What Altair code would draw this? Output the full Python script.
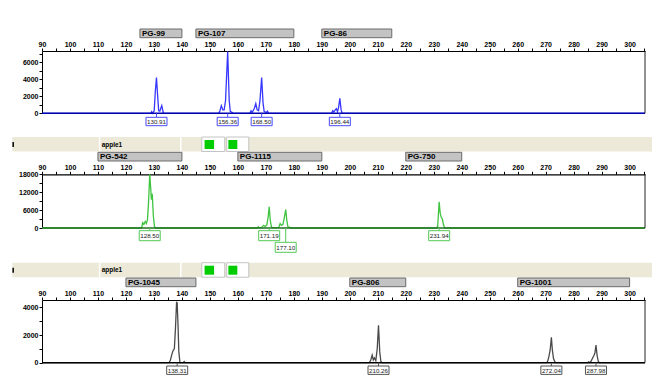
import altair as alt
import pandas as pd

# ---------------- data ----------------
X_MIN, X_MAX = 90, 305.5
x_ticks = list(range(90, 306, 5))

# Panel 1 (blue dye)
p1_bp = [90.0, 128.9, 129.2, 129.5, 130.1, 130.5, 130.91, 131.3, 131.7, 132.1, 132.8, 133.4,
         153.2, 153.6, 154.1, 154.6, 155.1, 155.6, 156.36, 156.9, 157.3, 157.8, 158.2,
         164.3, 164.7, 165.1, 165.9, 166.4, 166.9, 167.4, 167.9, 168.5, 169.0, 169.4, 170.2, 170.6, 171.0,
         193.5, 193.9, 194.3, 194.8, 195.2, 195.6, 196.0, 196.44, 196.9, 197.3, 305.5]
p1_rfu = [0, 0, 200, 0, 300, 2600, 4200, 2200, 300, 250, 900, 0,
          0, 300, 900, 400, 400, 1500, 7300, 1500, 200, 150, 0,
          0, 300, 100, 600, 1150, 400, 300, 1500, 4200, 1200, 200, 100, 250, 0,
          0, 300, 150, 400, 550, 200, 700, 1750, 400, 0, 0]
p1_bin_names = ["PG-99", "PG-107", "PG-86"]
p1_bin_start = [125, 145, 190]
p1_bin_end = [140, 180, 215]
p1_peaks = [130.91, 156.36, 168.50, 196.44]
p1_labels = ["130.91", "156.36", "168.50", "196.44"]
p1_levels = [0, 0, 0, 0]

# Panel 2 (green dye)
p2_bp = [90.0, 125.6, 126.0, 126.4, 126.9, 127.3, 127.7, 128.1, 128.5, 128.8, 129.1, 129.4, 129.8, 130.2, 130.6,
         167.0, 167.3, 167.6, 168.5, 169.2, 169.7, 170.3, 170.8, 171.19, 171.6, 172.0, 172.5,
         174.6, 175.1, 175.6, 176.1, 176.6, 177.1, 177.5, 177.9, 178.5, 178.9,
         231.0, 231.4, 231.94, 232.3, 232.7, 233.1, 233.5, 233.9, 305.5]
p2_rfu = [0, 0, 1800, 1200, 2200, 1500, 2800, 9000, 18000, 14000, 9500, 11500, 4000, 500, 0,
          0, 400, 100, 200, 900, 500, 900, 3500, 7100, 2500, 300, 100,
          200, 1500, 900, 1200, 3500, 6200, 2500, 400, 200, 0,
          0, 500, 8800, 5000, 3500, 3000, 1000, 0, 0]
p2_bin_names = ["PG-542", "PG-1115", "PG-750"]
p2_bin_start = [110, 160, 220]
p2_bin_end = [140, 190, 240]
p2_peaks = [128.50, 171.19, 177.10, 231.94]
p2_labels = ["128.50", "171.19", "177.10", "231.94"]
p2_levels = [0, 0, 1, 0]

# Panel 3 (black dye)
p3_bp = [90.0, 135.4, 135.9, 136.4, 136.9, 137.3, 137.7, 138.1, 138.31, 138.6, 138.9, 139.3, 140.5, 140.8, 141.1,
         207.0, 207.5, 208.0, 208.4, 208.8, 209.3, 209.8, 210.26, 210.7, 211.1, 211.5,
         270.4, 270.8, 271.2, 271.6, 272.04, 272.4, 272.8, 273.2, 273.6,
         285.0, 285.3, 285.6, 286.2, 286.7, 287.2, 287.6, 287.98, 288.4, 288.8, 289.2, 305.5]
p3_rfu = [0, 0, 200, 600, 900, 1000, 2500, 4400, 4300, 2800, 800, 0, 0, 80, 0,
          0, 200, 550, 200, 350, 150, 1000, 2700, 800, 100, 0,
          0, 150, 500, 900, 1830, 900, 300, 100, 0,
          0, 60, 0, 100, 300, 500, 700, 1280, 500, 100, 0, 0]
p3_bin_names = ["PG-1045", "PG-806", "PG-1001"]
p3_bin_start = [120, 200, 260]
p3_bin_end = [145, 220, 300]
p3_peaks = [138.31, 210.26, 272.04, 287.98]
p3_labels = ["138.31", "210.26", "272.04", "287.98"]
p3_levels = [0, 0, 0, 0]

# sample header strip (in bp units of the shared axis)
sample_name = "apple1"
header_span = [79.4, 308.9]
header_seps = [110.6, 139.6]
white_start = [147.1, 156.0]
white_end = [155.3, 163.9]
green_start = [148.1, 156.6]
green_end = [151.5, 159.8]

# ---------------- chart ----------------
W, H = 603, 368
FONT = "Liberation Sans"
one = pd.DataFrame({"k": [0]})


def build_panel(bp, rfu, names, bstart, bend, peaks, labels, levels, ymax, yticks, ylab,
                axis_y, base_y, color, base_color, box_color, box_dy, box_h, header):
    xs = alt.Scale(domain=[X_MIN, X_MAX], nice=False, zero=False)
    xa = alt.Axis(orient="top", offset=-axis_y, values=x_ticks, format="d",
                  labelExpr="datum.value % 10 === 0 ? datum.label : ''",
                  labelFont=FONT, labelFontSize=7, labelFontWeight="bold", labelColor="black",
                  tickColor="black", tickSize=3, labelPadding=1, domainColor="black",
                  domainWidth=1.2, grid=False, title=None, labelFlush=False, labelOverlap=False)
    ys = alt.Scale(domain=[0, ymax], range=[base_y, axis_y], nice=False, zero=True)
    ya = alt.Axis(orient="left", values=yticks, format="d",
                  labelExpr=f"datum.value % {ylab} === 0 ? datum.label : ''",
                  labelFont=FONT, labelFontSize=7, labelFontWeight="bold", labelColor="black",
                  tickColor="black", tickSize=3, labelPadding=1, domainColor="black",
                  grid=False, title=None, labelFlush=False, labelOverlap=False)

    def X(f):
        return alt.X(f, type="quantitative", scale=xs, axis=xa)

    layers = []
    if header:
        ht, hb = axis_y - 37.3, axis_y - 22.8
        hdf = pd.DataFrame({"s": [header_span[0]], "e": [header_span[1]]})
        layers.append(alt.Chart(hdf).mark_rect(fill="#ece9d8").encode(
            x=X("s"), x2="e", y=alt.value(ht), y2=alt.value(hb)))
        sdf = pd.DataFrame({"s": header_seps})
        layers.append(alt.Chart(sdf).mark_rule(color="#ffffff", strokeWidth=1.5).encode(
            x=X("s"), y=alt.value(ht), y2=alt.value(hb)))
        layers.append(alt.Chart(one).mark_rule(color="black", strokeWidth=1.5).encode(
            x=alt.XDatum(header_span[0] + 0.3, type="quantitative", scale=xs, axis=xa),
            y=alt.value(ht + 5), y2=alt.value(ht + 10)))
        wdf = pd.DataFrame({"s": white_start, "e": white_end})
        layers.append(alt.Chart(wdf).mark_rect(fill="white", stroke="#c4c4c4", strokeWidth=1).encode(
            x=X("s"), x2="e", y=alt.value(ht), y2=alt.value(hb)))
        gdf = pd.DataFrame({"s": green_start, "e": green_end})
        layers.append(alt.Chart(gdf).mark_rect(fill="#00cc00").encode(
            x=X("s"), x2="e", y=alt.value(ht + 3), y2=alt.value(ht + 12)))
        tdf = pd.DataFrame({"s": [header_seps[0]], "t": [sample_name]})
        layers.append(alt.Chart(tdf).mark_text(align="left", baseline="middle", dx=2, font=FONT,
                                               fontSize=6.5, fontWeight="bold", color="black").encode(
            x=X("s"), y=alt.value((ht + hb) / 2 + 0.5), text="t:N"))

    # marker bins
    bt, bb = axis_y - 22, axis_y - 13.3
    bdf = pd.DataFrame({"name": names, "s": bstart, "e": bend})
    layers.append(alt.Chart(bdf).mark_rect(fill="#c3c3c3", stroke="#6a6a6a", strokeWidth=1).encode(
        x=X("s"), x2="e", y=alt.value(bt), y2=alt.value(bb)))
    layers.append(alt.Chart(bdf).mark_text(align="left", baseline="middle", dx=2, font=FONT,
                                           fontSize=8, fontWeight="bold", color="black").encode(
        x=X("s"), y=alt.value((bt + bb) / 2 + 0.5), text="name:N"))

    # trace
    tdf = pd.DataFrame({"bp": bp, "rfu": rfu})
    layers.append(alt.Chart(tdf).mark_line(color=color, strokeWidth=1.3).encode(
        x=X("bp"), y=alt.Y("rfu", type="quantitative", scale=ys, axis=ya)))
    layers.append(alt.Chart(one).mark_rule(color=base_color, strokeWidth=1.5).encode(
        x=alt.XDatum(X_MIN, type="quantitative", scale=xs, axis=xa),
        x2=alt.X2Datum(X_MAX),
        y=alt.YDatum(0, type="quantitative", scale=ys, axis=ya)))
    layers.append(alt.Chart(one).mark_rule(color="#222222", strokeWidth=1).encode(
        x=alt.XDatum(X_MAX, type="quantitative", scale=xs, axis=xa),
        y=alt.YDatum(0, type="quantitative", scale=ys, axis=ya),
        y2=alt.Y2Datum(ymax)))

    # peak labels
    pdf = pd.DataFrame({"bp": peaks, "label": labels, "level": levels})
    hh = box_h / 21.0
    shape = f"M-1,-{hh:.3f}L1,-{hh:.3f}L1,{hh:.3f}L-1,{hh:.3f}Z"
    for lv in sorted(set(levels)):
        sub = pdf[pdf["level"] == lv]
        cy = base_y + box_dy + lv * 11.6
        layers.append(alt.Chart(sub).mark_rule(color=box_color, strokeWidth=1).encode(
            x=X("bp"), y=alt.YDatum(0, type="quantitative", scale=ys, axis=ya),
            y2=alt.value(cy - box_h / 2)))
        layers.append(alt.Chart(sub).mark_point(shape=shape, size=441, filled=True, fill="white",
                                                stroke=box_color, strokeWidth=1, opacity=1).encode(
            x=X("bp"), y=alt.value(cy)))
        layers.append(alt.Chart(sub).mark_text(align="center", baseline="middle", font=FONT,
                                               fontSize=6.2, color="#222222").encode(
            x=X("bp"), y=alt.value(cy + 0.5), text="label:N"))
    return alt.layer(*layers)


panel1 = build_panel(p1_bp, p1_rfu, p1_bin_names, p1_bin_start, p1_bin_end, p1_peaks, p1_labels,
                     p1_levels, 7330, list(range(0, 7001, 1000)), 2000, 43, 105.3,
                     "#3636ff", "#0000b0", "#4a4aff", 8.2, 8.4, False)
panel2 = build_panel(p2_bp, p2_rfu, p2_bin_names, p2_bin_start, p2_bin_end, p2_peaks, p2_labels,
                     p2_levels, 18000, list(range(0, 18001, 3000)), 6000, 166.3, 220,
                     "#3fc43f", "#1f6f1f", "#55c855", 7.7, 10, True)
panel3 = build_panel(p3_bp, p3_rfu, p3_bin_names, p3_bin_start, p3_bin_end, p3_peaks, p3_labels,
                     p3_levels, 4530, list(range(0, 4001, 1000)), 2000, 292, 354.7,
                     "#4a4a4a", "#000000", "#555555", 7.5, 8.4, True)

chart = alt.layer(panel1, panel2, panel3).resolve_scale(
    x="independent", y="independent"
).properties(
    width=W, height=H,
    padding={"left": 34, "top": 0, "right": 7, "bottom": 0},
    autosize=alt.AutoSizeParams(type="none"),
    background="white",
).configure_view(stroke=None)

chart.save("out.html", embed_options={"renderer": "svg", "actions": False})
